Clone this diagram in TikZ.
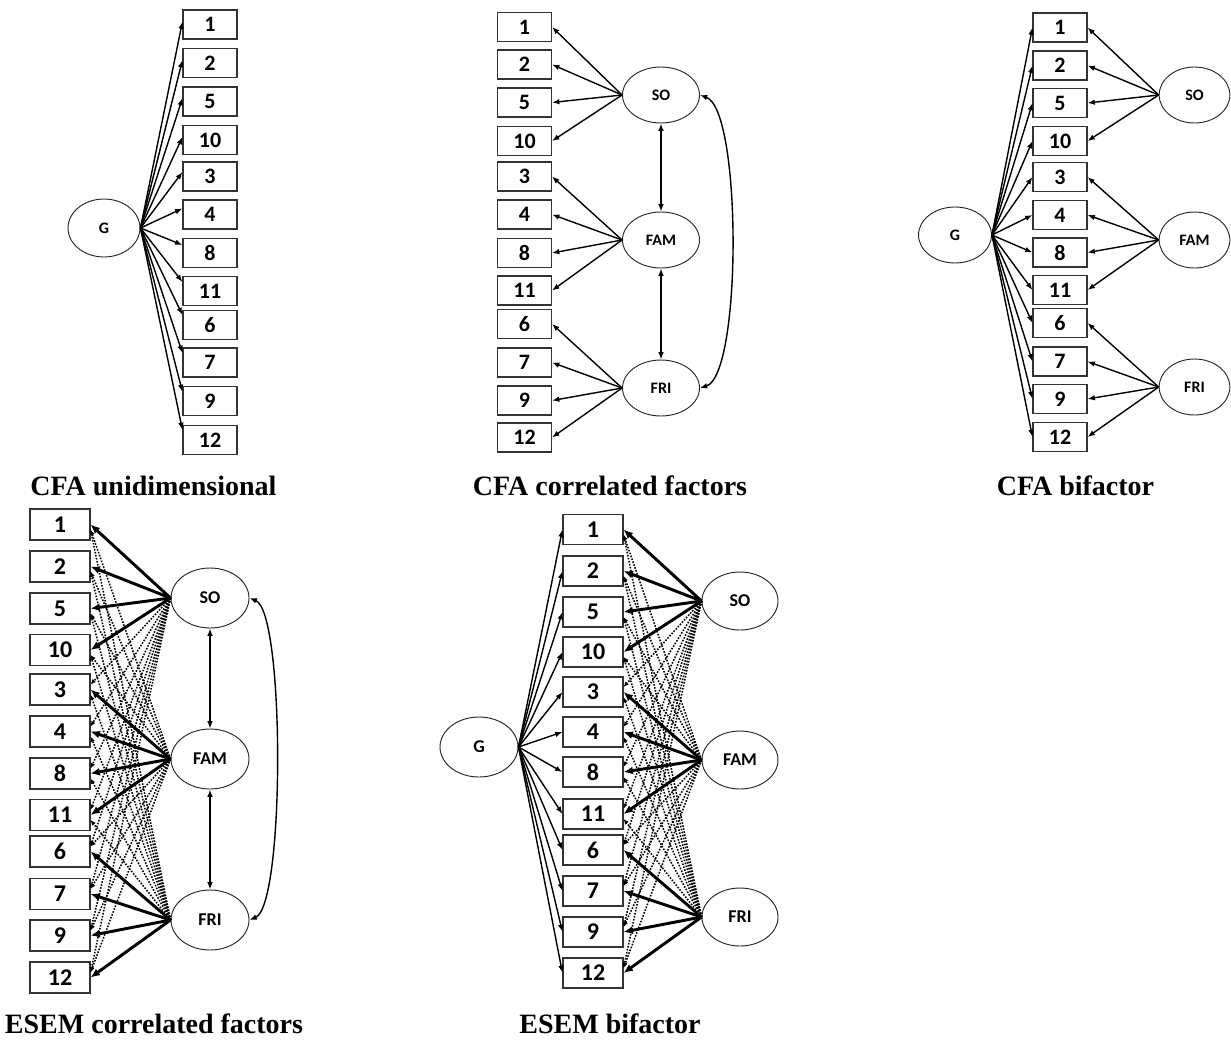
\documentclass[tikz,border=0pt]{standalone}
\usepackage{fontspec}
\setmainfont{Liberation Serif}
\newfontfamily\numfont{Carlito}
\usetikzlibrary{arrows.meta,shapes.geometric,calc}
\begin{document}
\begin{tikzpicture}[x=0.75pt,y=-0.75pt,
 boxA/.style={draw=black!80,line width=0.8pt,minimum width=40.5pt,minimum height=21.75pt,inner sep=0pt,font=\numfont\bfseries\fontsize{16.5}{16.5}\selectfont},
 boxB/.style={boxA,minimum width=45pt,minimum height=23.25pt,font=\numfont\bfseries\fontsize{18}{18}\selectfont},
 latA/.style={ellipse,draw=black!85,line width=0.7pt,minimum width=54pt,minimum height=42pt,inner sep=0pt,font=\numfont\bfseries\fontsize{12}{12}\selectfont},
 latB/.style={latA,minimum width=58.5pt,minimum height=45pt,font=\numfont\bfseries\fontsize{13.5}{13.5}\selectfont},
 arr/.style={-{Latex[length=5.5pt,width=4.2pt]},line width=1.05pt},
 darr/.style={{Latex[length=5.5pt,width=4.2pt]}-{Latex[length=5.5pt,width=4.2pt]},line width=1.05pt},
 boldarr/.style={-{Latex[length=7pt,width=6pt]},line width=2.2pt},
 dotarr/.style={-{Latex[length=4pt,width=3.5pt]},line width=1.15pt,dash pattern=on 1.2pt off 1.1pt},
 title/.style={anchor=base,font=\bfseries\fontsize{21}{24}\selectfont},
]
\useasboundingbox (0,0) rectangle (1231,1039);

% ---------- Panel 1: CFA unidimensional ----------
\node[latA,minimum width=54pt,minimum height=43.5pt] (p1G) at (104,228) {G};
\foreach \lab/\y/\off in {1/24.5/-3,2/63/-3,5/101.5/-3.5,10/140/-3,3/176.5/-4.5,4/214.5/-6,8/253/-8,11/291/-9,6/325/-10,7/362.5/-9.5,9/401/-9,12/440/-10}{
  \node[boxA] (p1b\lab) at (210,\y) {\lab};
  \draw[arr] (p1G.east) -- ($(p1b\lab.west)+(0,\off)$);
}

% ---------- Panel 2: CFA correlated factors ----------
\foreach \lab/\y in {1/27,2/64.5,5/102.5,10/141,3/176.5,4/214.5,8/253,11/290.5,6/324,7/362.5,9/400.5,12/437.5}{
  \node[boxA] (p2b\lab) at (524.5,\y) {\lab};
}
\node[latA,minimum width=57.75pt] (p2SO) at (661,95) {SO};
\node[latA,minimum width=57.75pt] (p2FAM) at (661,240) {FAM};
\node[latA,minimum width=57.75pt] (p2FRI) at (661,388) {FRI};
\foreach \b in {1,2,5,10} \draw[arr] (p2SO.west) -- (p2b\b.east);
\foreach \b in {3,4,8,11} \draw[arr] (p2FAM.west) -- (p2b\b.east);
\foreach \b in {6,7,9,12} \draw[arr] (p2FRI.west) -- (p2b\b.east);
\draw[darr] (p2SO.south) -- (p2FAM.north);
\draw[darr] (p2FAM.south) -- (p2FRI.north);
\draw[darr] (p2SO.east) .. controls (742,110) and (742,375) .. (p2FRI.east);

% ---------- Panel 3: CFA bifactor ----------
\node[latA,minimum width=54.75pt] (p3G) at (955,235) {G};
\foreach \lab/\y in {1/27.5,2/65.5,5/103,10/141,3/177,4/215,8/252.5,11/290,6/323,7/361.5,9/399,12/437}{
  \node[boxA] (p3b\lab) at (1060,\y) {\lab};
  \draw[arr] (p3G.east) -- (p3b\lab.west);
}
\node[latA,minimum width=53pt] (p3SO) at (1194.5,95) {SO};
\node[latA,minimum width=53pt] (p3FAM) at (1194.5,240) {FAM};
\node[latA,minimum width=53pt] (p3FRI) at (1194.5,387) {FRI};
\foreach \b in {1,2,5,10} \draw[arr] (p3SO.west) -- (p3b\b.east);
\foreach \b in {3,4,8,11} \draw[arr] (p3FAM.west) -- (p3b\b.east);
\foreach \b in {6,7,9,12} \draw[arr] (p3FRI.west) -- (p3b\b.east);

% ---------- Panel 4: ESEM correlated factors ----------
\foreach \lab/\y in {1/524.5,2/566.5,5/608.5,10/650,3/689.5,4/731.5,8/773.5,11/815,6/851.5,7/894,9/935.5,12/977.5}{
  \node[boxB] (p4b\lab) at (60,\y) {\lab};
}
\node[latB] (p4SO) at (210,598) {SO};
\node[latB] (p4FAM) at (210,759) {FAM};
\node[latB] (p4FRI) at (210,920) {FRI};
\foreach \b in {3,4,8,11,6,7,9,12} \draw[dotarr] (p4SO.west) -- ($(p4b\b.east)+(0,-5)$);
\foreach \b in {1,2,5,10} \draw[dotarr] (p4FAM.west) -- ($(p4b\b.east)+(0,5)$);
\foreach \b in {6,7,9,12} \draw[dotarr] (p4FAM.west) -- ($(p4b\b.east)+(0,-5)$);
\foreach \b in {1,2,5,10,3,4,8,11} \draw[dotarr] (p4FRI.west) -- ($(p4b\b.east)+(0,5)$);
\foreach \b in {1,2,5,10} \draw[boldarr] (p4SO.west) -- (p4b\b.east);
\foreach \b in {3,4,8,11} \draw[boldarr] (p4FAM.west) -- (p4b\b.east);
\foreach \b in {6,7,9,12} \draw[boldarr] (p4FRI.west) -- (p4b\b.east);
\draw[darr] (p4SO.south) -- (p4FAM.north);
\draw[darr] (p4FAM.south) -- (p4FRI.north);
\draw[darr] (p4SO.east) .. controls (285,612) and (285,905) .. (p4FRI.east);

% ---------- Panel 5: ESEM bifactor ----------
\node[latB] (p5G) at (479,747) {G};
\foreach \lab/\y in {1/529.5,2/571,5/612,10/652,3/692,4/732,8/772,11/814,6/850,7/891,9/932,12/973}{
  \node[boxB,minimum height=22.5pt] (p5b\lab) at (593,\y) {\lab};
  \draw[arr] (p5G.east) -- (p5b\lab.west);
}
\node[latB,minimum width=57pt,minimum height=43.5pt] (p5SO) at (740,601) {SO};
\node[latB,minimum width=57pt,minimum height=43.5pt] (p5FAM) at (740,760) {FAM};
\node[latB,minimum width=57pt,minimum height=43.5pt] (p5FRI) at (740,917) {FRI};
\foreach \b in {3,4,8,11,6,7,9,12} \draw[dotarr] (p5SO.west) -- ($(p5b\b.east)+(0,-5)$);
\foreach \b in {1,2,5,10} \draw[dotarr] (p5FAM.west) -- ($(p5b\b.east)+(0,5)$);
\foreach \b in {6,7,9,12} \draw[dotarr] (p5FAM.west) -- ($(p5b\b.east)+(0,-5)$);
\foreach \b in {1,2,5,10,3,4,8,11} \draw[dotarr] (p5FRI.west) -- ($(p5b\b.east)+(0,5)$);
\foreach \b in {1,2,5,10} \draw[boldarr] (p5SO.west) -- (p5b\b.east);
\foreach \b in {3,4,8,11} \draw[boldarr] (p5FAM.west) -- (p5b\b.east);
\foreach \b in {6,7,9,12} \draw[boldarr] (p5FRI.west) -- (p5b\b.east);

% ---------- Titles ----------
\node[title] (t1) at (153.5,495) {CFA unidimensional};
\node[title] (t2) at (610,495) {CFA correlated factors};
\node[title] (t3) at (1075.5,495) {CFA bifactor};
\node[title] (t4) at (154,1033) {ESEM correlated factors};
\node[title] (t5) at (610,1033) {ESEM bifactor};
\end{tikzpicture}
\end{document}
